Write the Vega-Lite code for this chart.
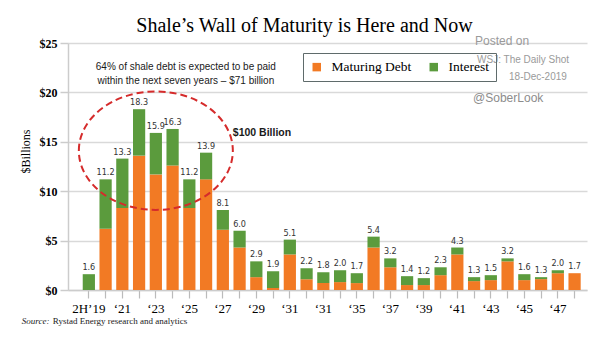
{
  "$schema": "https://vega.github.io/schema/vega-lite/v6.json",
  "width": 519,
  "height": 247,
  "autosize": {"type": "none"},
  "padding": {"left": 68, "top": 43, "right": 18, "bottom": 51},
  "background": "white",
  "config": {"view": {"stroke": null}, "font": "Liberation Serif"},
  "title": {
    "text": "Shale’s Wall of Maturity is Here and Now",
    "font": "Liberation Serif",
    "fontSize": 20,
    "fontWeight": "normal",
    "color": "#000000",
    "anchor": "middle",
    "frame": "group",
    "dx": -23,
    "offset": -17,
    "baseline": "alphabetic"
  },
  "data": {
    "values": [
      {"year": "2H’19", "maturing": 0, "interest": 1.6, "total": 1.6},
      {"year": "‘20", "maturing": 6.2, "interest": 5.0, "total": 11.2},
      {"year": "‘21", "maturing": 8.3, "interest": 5.0, "total": 13.3},
      {"year": "‘22", "maturing": 13.6, "interest": 4.7, "total": 18.3},
      {"year": "‘23", "maturing": 11.7, "interest": 4.2, "total": 15.9},
      {"year": "‘24", "maturing": 12.6, "interest": 3.7, "total": 16.3},
      {"year": "‘25", "maturing": 8.3, "interest": 2.9, "total": 11.2},
      {"year": "‘26", "maturing": 11.2, "interest": 2.7, "total": 13.9},
      {"year": "‘27", "maturing": 6.1, "interest": 2.0, "total": 8.1},
      {"year": "‘28", "maturing": 4.3, "interest": 1.7, "total": 6.0},
      {"year": "‘29", "maturing": 1.3, "interest": 1.6, "total": 2.9},
      {"year": "‘30", "maturing": 0.2, "interest": 1.7, "total": 1.9},
      {"year": "‘31", "maturing": 3.6, "interest": 1.5, "total": 5.1},
      {"year": "‘32", "maturing": 1.1, "interest": 1.1, "total": 2.2},
      {"year": "‘33", "maturing": 0.7, "interest": 1.1, "total": 1.8},
      {"year": "‘34", "maturing": 0.8, "interest": 1.2, "total": 2.0},
      {"year": "‘35", "maturing": 0.7, "interest": 1.0, "total": 1.7},
      {"year": "‘36", "maturing": 4.3, "interest": 1.1, "total": 5.4},
      {"year": "‘37", "maturing": 2.3, "interest": 0.9, "total": 3.2},
      {"year": "‘38", "maturing": 0.5, "interest": 0.9, "total": 1.4},
      {"year": "‘39", "maturing": 0.5, "interest": 0.7, "total": 1.2},
      {"year": "‘40", "maturing": 1.5, "interest": 0.8, "total": 2.3},
      {"year": "‘41", "maturing": 3.6, "interest": 0.7, "total": 4.3},
      {"year": "‘42", "maturing": 0.9, "interest": 0.4, "total": 1.3},
      {"year": "‘43", "maturing": 1.0, "interest": 0.5, "total": 1.5},
      {"year": "‘44", "maturing": 2.9, "interest": 0.3, "total": 3.2},
      {"year": "‘45", "maturing": 1.0, "interest": 0.6, "total": 1.6},
      {"year": "‘46", "maturing": 1.1, "interest": 0.2, "total": 1.3},
      {"year": "‘47", "maturing": 1.7, "interest": 0.3, "total": 2.0},
      {"year": "‘48", "maturing": 1.7, "interest": 0, "total": 1.7}
    ]
  },
  "encoding": {
    "x": {
      "field": "year",
      "type": "nominal",
      "sort": null,
      "scale": {
        "domain": ["2H’19","‘20","‘21","‘22","‘23","‘24","‘25","‘26","‘27","‘28","‘29","‘30","‘31","‘32","‘33","‘34","‘35","‘36","‘37","‘38","‘39","‘40","‘41","‘42","‘43","‘44","‘45","‘46","‘47","‘48"],
        "paddingInner": 0.27,
        "paddingOuter": 0.628,
        "align": 0.7
      },
      "axis": {
        "title": null,
        "labelAngle": 0,
        "labelExpr": "datum.value == '‘33' ? '‘31' : (indexof(['2H’19','‘21','‘23','‘25','‘27','‘29','‘31','‘35','‘37','‘39','‘41','‘43','‘45','‘47'], datum.value) >= 0 ? datum.value : '')",
        "labelFont": "Liberation Serif",
        "labelFontSize": 13,
        "labelColor": "#000000",
        "labelPadding": 4,
        "tickSize": 8,
        "tickColor": "#bbbbbb",
        "tickWidth": 1.2,
        "domainColor": "#cccccc",
        "domainWidth": 1.5,
        "grid": false
      }
    }
  },
  "layer": [
    {
      "transform": [{"fold": ["maturing", "interest"], "as": ["key", "amt"]}],
      "mark": {"type": "bar"},
      "encoding": {
        "y": {
          "field": "amt",
          "type": "quantitative",
          "stack": "zero",
          "scale": {"domain": [0, 25], "nice": false},
          "axis": {
            "title": "$Billions",
            "titleFont": "Liberation Serif",
            "titleFontSize": 12,
            "titleFontWeight": "normal",
            "titleColor": "#000000",
            "titleX": -43,
            "titleY": 108,
            "titleAngle": -90,
            "titleAlign": "center",
            "titleBaseline": "middle",
            "values": [0, 5, 10, 15, 20, 25],
            "labelExpr": "'$' + datum.value",
            "labelFont": "Liberation Serif",
            "labelFontSize": 12,
            "labelFontWeight": "bold",
            "labelColor": "#000000",
            "labelPadding": 3,
            "tickSize": 8,
            "tickColor": "#cccccc",
            "tickWidth": 1.5,
            "domainColor": "#cccccc",
            "domainWidth": 1.5,
            "gridColor": "#d9d9d9",
            "gridWidth": 1.5
          }
        },
        "color": {
          "field": "key",
          "type": "nominal",
          "scale": {"domain": ["maturing", "interest"], "range": ["#F27A24", "#5B9B3D"]},
          "legend": {
            "title": null,
            "orient": "none",
            "legendX": 235,
            "legendY": 10,
            "direction": "horizontal",
            "symbolType": "square",
            "symbolSize": 72,
            "symbolStrokeWidth": 0,
            "labelFont": "Liberation Serif",
            "labelFontSize": 13.5,
            "labelColor": "#000000",
            "labelOffset": 8,
            "columnPadding": 15,
            "padding": 7,
            "strokeColor": "#5f6b6b",
            "labelExpr": "datum.value == 'maturing' ? 'Maturing Debt' : 'Interest'"
          }
        },
        "order": {"field": "key", "sort": "descending"}
      }
    },
    {
      "mark": {"type": "text", "baseline": "alphabetic", "dy": -4, "font": "Liberation Sans Narrow, DejaVu Sans Condensed, Liberation Sans", "fontSize": 9, "color": "#333333"},
      "encoding": {
        "y": {"field": "total", "type": "quantitative"},
        "text": {"field": "total", "type": "quantitative", "format": ".1f"}
      }
    },
    {
      "data": {"values": [{}]},
      "mark": {
        "type": "point",
        "shape": "M-1,0 C-1,-0.4247 -0.5523,-0.769 0,-0.769 C0.5523,-0.769 1,-0.4247 1,0 C1,0.4247 0.5523,0.769 0,0.769 C-0.5523,0.769 -1,0.4247 -1,0 Z",
        "size": 23716,
        "filled": false,
        "color": "#d52b2b",
        "opacity": 1,
        "strokeWidth": 2,
        "strokeDash": [7, 4]
      },
      "encoding": {"x": {"datum": "‘23"}, "y": {"datum": 14.1}}
    },
    {
      "data": {"values": [{}]},
      "mark": {"type": "text", "text": ["64% of shale debt is expected to be paid", "within the next seven years – $71 billion"], "font": "Liberation Sans", "fontSize": 10, "color": "#1a1a1a", "align": "center", "baseline": "alphabetic", "lineHeight": 14, "dx": -3.5},
      "encoding": {"x": {"datum": "‘25"}, "y": {"datum": 22.27}}
    },
    {
      "data": {"values": [{}]},
      "mark": {"type": "text", "text": "$100 Billion", "font": "Liberation Sans", "fontSize": 10.5, "fontWeight": "bold", "color": "#1a1a1a", "align": "left", "baseline": "alphabetic", "dx": 10},
      "encoding": {"x": {"datum": "‘27"}, "y": {"datum": 15.6}}
    },
    {
      "data": {"values": [{}]},
      "mark": {"type": "text", "text": "Posted on", "font": "Liberation Sans", "fontSize": 12, "color": "#9a9a9a", "align": "left", "baseline": "alphabetic", "dx": 1},
      "encoding": {"x": {"datum": "‘42"}, "y": {"datum": 24.8}}
    },
    {
      "data": {"values": [{}]},
      "mark": {"type": "text", "text": "WSJ: The Daily Shot", "font": "Liberation Sans", "fontSize": 10, "color": "#9a9a9a", "align": "left", "baseline": "alphabetic", "dx": 3},
      "encoding": {"x": {"datum": "‘42"}, "y": {"datum": 22.98}}
    },
    {
      "data": {"values": [{}]},
      "mark": {"type": "text", "text": "18-Dec-2019", "font": "Liberation Sans", "fontSize": 10, "color": "#9a9a9a", "align": "right", "baseline": "alphabetic", "dx": 9},
      "encoding": {"x": {"datum": "‘47"}, "y": {"datum": 21.25}}
    },
    {
      "data": {"values": [{}]},
      "mark": {"type": "text", "text": "@SoberLook", "font": "Liberation Sans", "fontSize": 12, "color": "#8c8c8c", "align": "left", "baseline": "alphabetic", "dx": -1},
      "encoding": {"x": {"datum": "‘42"}, "y": {"datum": 19.0}}
    },
    {
      "data": {"values": [{}]},
      "mark": {"type": "text", "text": "Source:", "font": "Liberation Serif", "fontSize": 9, "fontStyle": "italic", "color": "#1a1a1a", "align": "left", "baseline": "alphabetic", "dx": -67},
      "encoding": {"x": {"datum": "2H’19"}, "y": {"datum": -3.44}}
    },
    {
      "data": {"values": [{}]},
      "mark": {"type": "text", "text": "Rystad Energy research and analytics", "font": "Liberation Serif", "fontSize": 9, "color": "#1a1a1a", "align": "left", "baseline": "alphabetic", "dx": -36},
      "encoding": {"x": {"datum": "2H’19"}, "y": {"datum": -3.44}}
    }
  ]
}
